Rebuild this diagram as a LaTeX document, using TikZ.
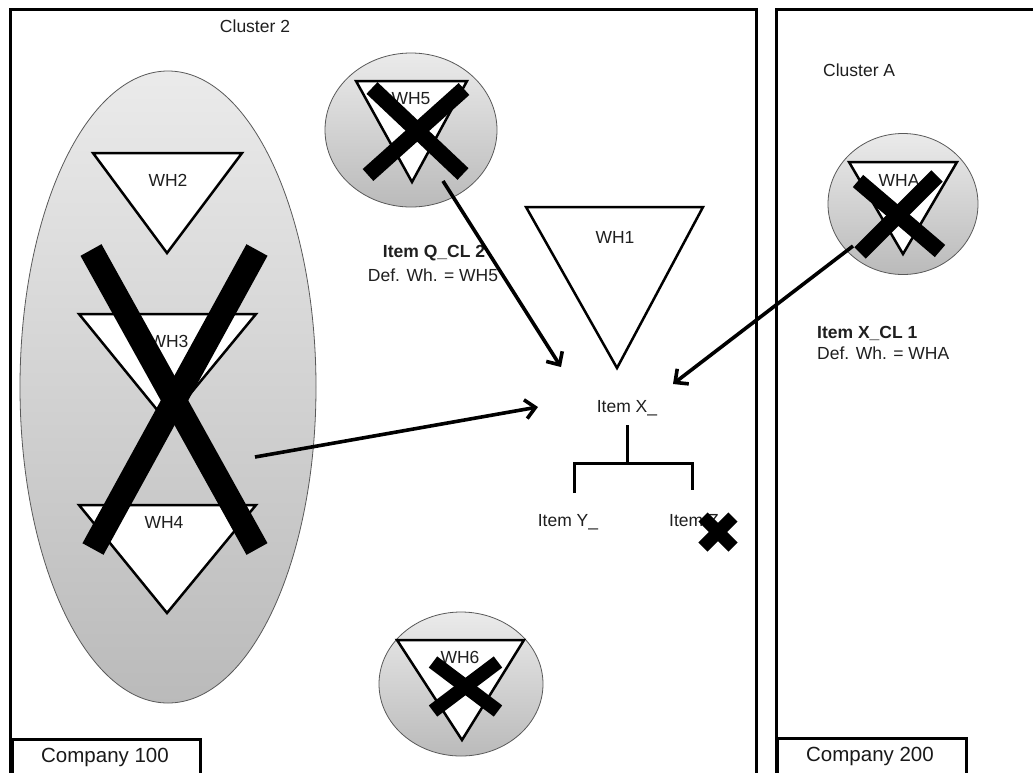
\documentclass[tikz,border=0pt]{standalone}
\usepackage{fontspec}
\setmainfont{Liberation Sans}
\usetikzlibrary{arrows.meta,shapes.geometric}
\begin{document}
\begin{tikzpicture}[x=1pt,y=-1pt,
  frame/.style={draw=black,line width=3pt},
  wh/.style={draw=black,fill=white,line width=2.5pt,line join=miter},
  blob/.style={ellipse,draw=black!65,line width=0.8pt,top color=black!8,bottom color=black!27,inner sep=0pt},
  lbl/.style={font=\fontsize{17.5}{20}\selectfont,inner sep=0pt,text=black!88},
  big/.style={font=\fontsize{20.5}{24}\selectfont,inner sep=0pt,text=black!90},
  xbar/.style={draw=black,line width=#1,line cap=butt},
  arr/.style={draw=black,line width=3.6pt,-{Straight Barb[length=10pt,width=19pt]}},
  tree/.style={draw=black,line width=3pt}]
\useasboundingbox (0,0) rectangle (1033,772);
\clip (0,0) rectangle (1033,772);
\fill[white] (0,0) rectangle (1033,772);
% company frames
\draw[frame] (10,780) -- (10,9) -- (756,9) -- (756,780);
\draw[frame] (776,780) -- (776,9) -- (1040,9);
\draw[frame] (12,780) -- (12,739) -- (200,739) -- (200,780);
\draw[frame] (777,780) -- (777,738) -- (966,738) -- (966,780);
\node[big] (c100) at (105,757) {Company 100};
\node[big] (c200) at (870,756) {Company 200};
\node[lbl] (cl2) at (255,26) {Cluster 2};
\node[lbl,anchor=west] (clA) at (823,70) {Cluster A};
% big group ellipse
\node[blob,minimum width=296pt,minimum height=632pt] (grp) at (168,387) {};
\path[wh] (93,153) -- (242,153) -- (167,253) -- cycle;
\node[lbl] (wh2) at (168,180) {WH2};
\path[wh] (79,314) -- (256,314) -- (167,422) -- cycle;
\node[lbl] (wh3) at (169,341) {WH3};
\path[wh] (79,505) -- (256,505) -- (167,613) -- cycle;
\node[lbl] (wh4) at (164,522) {WH4};
\draw[xbar=24pt] (91,250) -- (257,549);
\draw[xbar=24pt] (257,250) -- (93,549);
% WH5
\node[blob,minimum width=172pt,minimum height=154pt] (c5) at (411,130) {};
\path[wh] (356,81) -- (467,81) -- (412,182) -- cycle;
\node[lbl] (wh5) at (411,99) {WH5};
\draw[xbar=16pt] (372,88) -- (463,174);
\draw[xbar=16pt] (464,89) -- (368,175);
% WH1
\path[wh] (526,207) -- (703,207) -- (617,368) -- cycle;
\node[lbl] (wh1) at (615,237) {WH1};
% WHA
\node[blob,minimum width=150pt,minimum height=141pt] (cA) at (903,204) {};
\path[wh] (849,162) -- (957,162) -- (903,254) -- cycle;
\node[lbl] (wha) at (899,180) {WHA};
\draw[xbar=16pt] (858,181) -- (940,251);
\draw[xbar=16pt] (937,176) -- (860,253);
% WH6
\node[blob,minimum width=164pt,minimum height=144pt] (c6) at (461,684) {};
\path[wh] (397,640) -- (524,640) -- (462,740) -- cycle;
\node[lbl] (wh6) at (460,657) {WH6};
\draw[xbar=14pt] (433,662) -- (498,711);
\draw[xbar=14pt] (498,662) -- (433,711);
% item labels
\node[lbl,font=\bfseries\fontsize{17.5}{20}\selectfont] (iq) at (434,253) {Item Q\_CL 2};
\node[lbl] (iqd) at (433,275) {Def. Wh. = WH5};
\node[lbl,anchor=west,font=\bfseries\fontsize{17.5}{20}\selectfont] (ix1) at (817,333) {Item X\_CL 1};
\node[lbl,anchor=west] (ix1d) at (817,353) {Def. Wh. = WHA};
\node[lbl] (ix) at (627,408) {Item X\_};
\node[lbl] (iy) at (568,522) {Item Y\_};
\node[lbl,anchor=west] (iz) at (669,522) {Item Z\_};
% tree
\coordinate (t0) at (627,425);
\coordinate (tm) at (627,463);
\coordinate (tl) at (574,493);
\coordinate (tr) at (692,490);
\draw[tree] (t0) -- (tm);
\draw[tree] (tl) |- (tm) -| (tr);
% cross on Item Z
\draw[xbar=13pt] (703,517) -- (733,547);
\draw[xbar=13pt] (733,517) -- (703,547);
% arrows
\coordinate (s1) at (255,457);
\coordinate (e1) at (538,407);
\coordinate (s5) at (443,181);
\coordinate (e5) at (561,367);
\coordinate (sA) at (853,246);
\coordinate (eA) at (673,384);
\draw[arr] (s1) -- (e1);
\draw[arr] (s5) -- (e5);
\draw[arr] (sA) -- (eA);
\end{tikzpicture}
\end{document}
